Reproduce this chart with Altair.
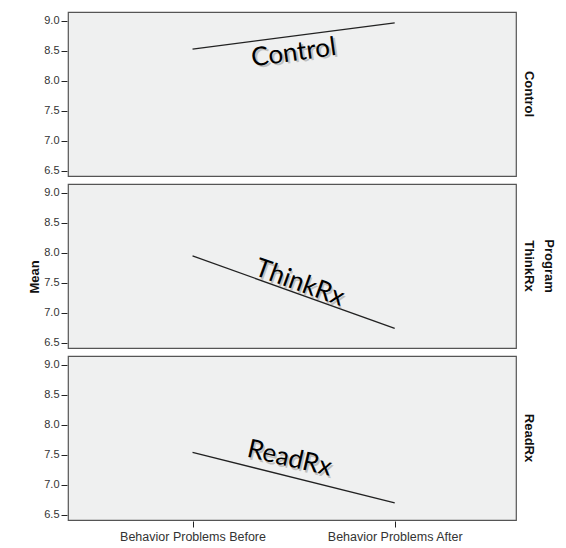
import altair as alt
import pandas as pd

programs = ["Control", "ThinkRx", "ReadRx"]
x_labels = ["Behavior Problems Before", "Behavior Problems After"]
mean_before = [8.53, 7.95, 7.54]
mean_after = [8.97, 6.74, 6.70]
label_x = [0.50, 0.53, 0.48]
label_y = [8.47, 7.50, 7.44]
label_angle = [352, 20, 13]
y_ticks = [6.5, 7.0, 7.5, 8.0, 8.5, 9.0]

rows = []
for i, p in enumerate(programs):
    rows.append({"Program": p, "kind": "line", "x": 0, "Mean": mean_before[i], "label": "", "angle": 0})
    rows.append({"Program": p, "kind": "line", "x": 1, "Mean": mean_after[i], "label": "", "angle": 0})
    rows.append({"Program": p, "kind": "label", "x": label_x[i], "Mean": label_y[i], "label": p, "angle": label_angle[i]})
df = pd.DataFrame(rows)

label_expr = f"datum.value == 0 ? '{x_labels[0]}' : '{x_labels[1]}'"

x_axis = alt.Axis(values=[0, 1], labelExpr=label_expr, title=None, grid=False,
                  domain=False, tickSize=6, tickColor="#222", labelFontSize=12.5,
                  labelColor="#333", labelFont="Liberation Sans", labelPadding=3,
                  labelOverlap=False)
y_axis = alt.Axis(values=y_ticks, format=".1f", grid=False, labelOverlap=False,
                  domain=False, tickSize=6, tickColor="#222", labelFontSize=11,
                  labelColor="#333", labelFont="Liberation Sans", labelPadding=2,
                  title=None)
x_scale = alt.Scale(domain=[-0.616, 1.60], nice=False, zero=False)
y_scale = alt.Scale(domain=[6.413, 9.15], nice=False, zero=False)

def xe():
    return alt.X("x:Q", scale=x_scale, axis=x_axis)

def ye():
    return alt.Y("Mean:Q", scale=y_scale, axis=y_axis)

lines = alt.Chart().mark_line(color="#222", strokeWidth=1.3).encode(
    x=xe(), y=ye(), detail="Program:N"
).transform_filter(alt.datum.kind == "line")

shadow = alt.Chart().mark_text(
    font="Lato", fontSize=26, color="#888", opacity=0.45, dx=2, dy=2,
    align="center", baseline="middle"
).encode(
    x=xe(), y=ye(), text="label:N", angle=alt.Angle("angle:Q", scale=None)
).transform_filter(alt.datum.kind == "label")

texts = alt.Chart().mark_text(
    font="Lato", fontSize=26, color="#000",
    align="center", baseline="middle"
).encode(
    x=xe(), y=ye(), text="label:N", angle=alt.Angle("angle:Q", scale=None)
).transform_filter(alt.datum.kind == "label")

layer = alt.layer(lines, shadow, texts, data=df).properties(width=448, height=164)

chart = layer.facet(
    row=alt.Row(
        "Program:N",
        sort=programs,
        header=alt.Header(
            title="Program", titleOrient="right", titleAngle=90,
            titleFont="Liberation Sans", titleFontSize=13, titleFontWeight="bold",
            titleColor="#111", titlePadding=-3,
            labelOrient="right", labelAngle=90, labelFont="Liberation Sans",
            labelFontSize=13, labelFontWeight="bold", labelColor="#111",
            labelPadding=5,
        ),
    ),
    spacing=6,
).properties(
    title=alt.TitleParams(text="Mean", orient="left", anchor="middle",
                          font="Liberation Sans", fontSize=13, fontWeight="bold",
                          color="#111", offset=2),
    padding={"left": 20, "top": 3, "right": 3, "bottom": 0},
).configure_axis(
    labelOverlap=False
).configure_view(
    fill="#eff0f0", stroke="#555", strokeWidth=1.2
)

chart.save("out.html", embed_options={"renderer": "svg", "actions": False})
